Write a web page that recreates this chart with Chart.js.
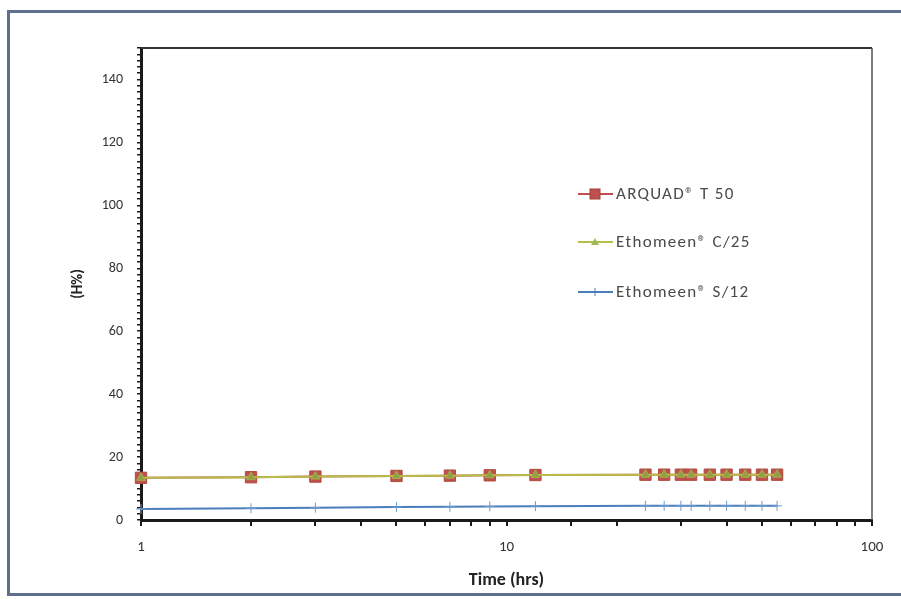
<!DOCTYPE html>
<html>
<head>
<meta charset="utf-8">
<script src="https://cdn.jsdelivr.net/npm/chart.js@4/dist/chart.umd.min.js"></script>
<style>
  html, body { margin: 0; padding: 0; background: #ffffff; overflow: hidden; }
  #c { display: block; }
</style>
</head>
<body>
<canvas id="c" width="901" height="599"></canvas>
<script>
// ---- data ----
const timeHrs   = [1, 2, 3, 5, 7, 9, 12, 24, 27, 30, 32, 36, 40, 45, 50, 55];
const arquadT50 = [13.4, 13.6, 13.8, 14.0, 14.1, 14.2, 14.3, 14.4, 14.4, 14.4, 14.4, 14.4, 14.4, 14.4, 14.4, 14.4];
const ethoC25   = [13.4, 13.6, 13.8, 14.0, 14.1, 14.2, 14.3, 14.4, 14.4, 14.4, 14.4, 14.4, 14.4, 14.4, 14.4, 14.4];
const ethoS12   = [3.5, 3.7, 3.9, 4.1, 4.2, 4.3, 4.4, 4.5, 4.5, 4.5, 4.5, 4.5, 4.5, 4.5, 4.5, 4.5];
const seriesNames = ['ARQUAD\u00AE T 50', 'Ethomeen\u00AE C/25', 'Ethomeen\u00AE S/12'];
const xLabelTicks = [1, 10, 100];
const yLabelTicks = [0, 20, 40, 60, 80, 100, 120, 140];

const FONT = "Carlito, Lato, 'Open Sans', sans-serif";
const pts = arr => timeHrs.map((t, i) => ({ x: t, y: arr[i] }));

const colRed = '#c0504d', colGreen = '#9bbb59', colGreenLine = '#b8bd4a', colBlue = '#4a7ebb';

const frameAndLegend = {
  id: 'frameAndLegend',
  beforeDraw(chart) {
    const { ctx, width, height } = chart;
    ctx.save();
    ctx.fillStyle = '#ffffff';
    ctx.fillRect(0, 0, width, height);
    ctx.strokeStyle = '#5d6f8c';
    ctx.lineWidth = 3;
    ctx.beginPath();
    ctx.moveTo(width + 5, 11.5); ctx.lineTo(8.5, 11.5); ctx.lineTo(8.5, 594.5); ctx.lineTo(width + 5, 594.5);
    ctx.stroke();
    ctx.restore();
  },
  afterDraw(chart) {
    const { ctx, chartArea: a } = chart;
    ctx.save();
    // plot box
    ctx.strokeStyle = '#333';
    ctx.lineWidth = 2;
    ctx.beginPath();
    ctx.moveTo(a.left, a.top); ctx.lineTo(a.right, a.top);
    ctx.stroke();
    ctx.strokeStyle = '#555';
    ctx.lineWidth = 1.5;
    ctx.beginPath();
    ctx.moveTo(a.right, a.top); ctx.lineTo(a.right, a.bottom);
    ctx.stroke();
    // legend
    const lx = a.left + (578 - 141), rowsY = [194, 242, 292];
    ctx.font = "17px " + FONT;
    ctx.textBaseline = 'middle';
    const cols = [colRed, colGreenLine, colBlue];
    rowsY.forEach((y, i) => {
      ctx.strokeStyle = cols[i];
      ctx.lineWidth = 2;
      ctx.beginPath(); ctx.moveTo(lx, y); ctx.lineTo(lx + 35, y); ctx.stroke();
      const cx = lx + 17;
      if (i === 0) {
        ctx.fillStyle = colRed; ctx.strokeStyle = '#a53f3b'; ctx.lineWidth = 1;
        ctx.fillRect(cx - 5, y - 5, 10, 10); ctx.strokeRect(cx - 5, y - 5, 10, 10);
      } else if (i === 1) {
        ctx.fillStyle = colGreen;
        ctx.beginPath(); ctx.moveTo(cx, y - 4); ctx.lineTo(cx + 4, y + 3); ctx.lineTo(cx - 4, y + 3); ctx.closePath(); ctx.fill();
      } else {
        ctx.strokeStyle = colBlue; ctx.lineWidth = 1;
        ctx.beginPath(); ctx.moveTo(cx - 4, y); ctx.lineTo(cx + 4, y); ctx.moveTo(cx, y - 4); ctx.lineTo(cx, y + 4); ctx.stroke();
      }
      ctx.fillStyle = '#4a4a4a';
      ctx.letterSpacing = '1.3px';
      ctx.fillText(seriesNames[i], lx + 38, y + 1);
      ctx.letterSpacing = '0px';
    });
    ctx.restore();
  }
};

new Chart(document.getElementById('c'), {
  type: 'line',
  data: {
    datasets: [
      { label: seriesNames[0], data: pts(arquadT50), borderColor: colRed, backgroundColor: colRed,
        borderWidth: 2, pointStyle: 'rect', pointRadius: 8, pointBorderColor: '#b04a3c', pointBorderWidth: 1,
        clip: false, order: 3 },
      { label: seriesNames[1], data: pts(ethoC25), borderColor: colGreenLine, backgroundColor: '#8fa046',
        borderWidth: 2, pointStyle: 'triangle', pointRadius: 5, pointBorderColor: '#a4ae4c', pointBorderWidth: 1,
        clip: false, order: 2 },
      { label: seriesNames[2], data: pts(ethoS12), borderColor: colBlue, backgroundColor: colBlue,
        borderWidth: 2, pointStyle: 'cross', pointRadius: 5, pointBorderColor: '#6f9bd0', pointBorderWidth: 1,
        clip: false, order: 1 }
    ]
  },
  options: {
    responsive: false,
    animation: false,
    devicePixelRatio: 1,
    layout: { padding: { left: 0, top: 48, right: 29, bottom: 0 } },
    plugins: { legend: { display: false }, tooltip: { enabled: false } },
    elements: { line: { tension: 0 } },
    scales: {
      x: {
        type: 'logarithmic', min: 1, max: 100,
        afterFit: s => { s.height = 79; },
        border: { display: true, color: '#1a1a1a', width: 3 },
        grid: { display: true, drawOnChartArea: false, drawTicks: true, tickLength: 6, color: '#1a1a1a', lineWidth: 2 },
        ticks: {
          autoSkip: false, maxRotation: 0, padding: 12, color: '#333',
          font: { family: FONT, size: 15 },
          callback: v => xLabelTicks.includes(Number(v)) ? String(v) : ''
        },
        title: { display: true, text: 'Time (hrs)', color: '#222', font: { family: FONT, size: 18, weight: 'bold' },
                 padding: { top: 0, bottom: 8 } }
      },
      y: {
        min: 0, max: 150,
        afterFit: s => { s.width = 141; },
        border: { display: true, color: '#1a1a1a', width: 3 },
        grid: { display: true, drawOnChartArea: false, drawTicks: true, tickLength: 4, color: '#1a1a1a', lineWidth: 1.5 },
        ticks: {
          stepSize: 2, autoSkip: false, padding: 14, color: '#333',
          font: { family: FONT, size: 14 },
          callback: v => yLabelTicks.includes(Number(v)) ? String(v) : ''
        },
        title: { display: true, text: '(H%)', color: '#222', font: { family: FONT, size: 15, weight: 'bold' },
                 padding: { top: 69, bottom: 0 } }
      }
    }
  },
  plugins: [frameAndLegend]
});
</script>
</body>
</html>
